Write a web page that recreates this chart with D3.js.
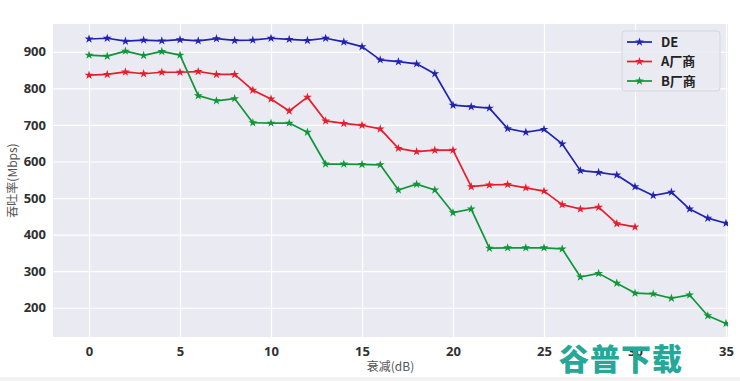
<!DOCTYPE html>
<html>
<head>
<meta charset="utf-8">
<script src="https://cdn.jsdelivr.net/npm/d3@7/dist/d3.min.js"></script>
<style>
  html, body { margin: 0; padding: 0; background: #ffffff; }
  svg { display: block; }
</style>
</head>
<body>
<svg id="chart" width="740" height="381"></svg>
<script>
// ---- data ----
const seriesNames = ["DE", "A厂商", "B厂商"];
const xTicks = [0, 5, 10, 15, 20, 25, 30, 35];
const yTicks = [200, 300, 400, 500, 600, 700, 800, 900];
const deValues = [935, 937, 929, 932, 930, 933, 930, 936, 931, 932,
                  937, 934, 931, 937, 927, 914, 878, 873, 867, 840,
                  754, 750, 746, 690, 680, 688, 648, 575, 570, 563,
                  531, 507, 516, 470, 445, 431];
const aValues = [836, 838, 845, 840, 844, 844, 846, 838, 838, 795,
                 771, 738, 776, 711, 704, 699, 689, 636, 627, 631,
                 631, 531, 536, 537, 528, 519, 482, 470, 475, 430,
                 421];
const bValues = [891, 888, 902, 890, 901, 891, 780, 766, 772, 706,
                 705, 705, 680, 593, 593, 592, 591, 522, 538, 522,
                 460, 470, 363, 364, 364, 364, 361, 284, 294, 267,
                 240, 238, 226, 235, 178, 157];
const colors = ["#2222b0", "#e61e2c", "#0f9638"];
const xLabel = "衰减(dB)";
const yLabel = "吞吐率(Mbps)";
const watermark = "谷普下载";

// ---- layout ----
const svg = d3.select("#chart");
const L = 53, R = 728, T = 24, B = 337;
const x = d3.scaleLinear().domain([-1.98, 35.11]).range([L, R]);
const y = d3.scaleLinear().domain([120, 976]).range([B, T]);

// background
svg.append("rect").attr("x", L).attr("y", T).attr("width", R - L).attr("height", B - T)
  .attr("fill", "#eaeaf2");

// grid
const gx = d3.axisBottom(x).tickValues(xTicks).tickSize(-(B - T)).tickFormat("");
svg.append("g").attr("transform", `translate(0,${B})`).call(gx)
  .call(g => g.select(".domain").remove())
  .call(g => g.selectAll("line").attr("stroke", "#ffffff").attr("stroke-width", 1.2));
const gy = d3.axisLeft(y).tickValues(yTicks).tickSize(-(R - L)).tickFormat("");
svg.append("g").attr("transform", `translate(${L},0)`).call(gy)
  .call(g => g.select(".domain").remove())
  .call(g => g.selectAll("line").attr("stroke", "#ffffff").attr("stroke-width", 1.2));

// tick labels via axes
const ax = d3.axisBottom(x).tickValues(xTicks).tickSize(0).tickPadding(10).tickFormat(d3.format("d"));
svg.append("g").attr("transform", `translate(0,${B})`).call(ax)
  .call(g => g.select(".domain").remove())
  .call(g => g.selectAll("text").attr("font-family", "'Open Sans', 'Noto Sans', sans-serif")
    .attr("font-size", 13).attr("font-weight", "bold").attr("fill", "#303030"));
const ay = d3.axisLeft(y).tickValues(yTicks).tickSize(0).tickPadding(7).tickFormat(d3.format("d"));
svg.append("g").attr("transform", `translate(${L},0)`).call(ay)
  .call(g => g.select(".domain").remove())
  .call(g => g.selectAll("text").attr("font-family", "'Open Sans', 'Noto Sans', sans-serif")
    .attr("font-size", 13).attr("font-weight", "bold").attr("fill", "#303030"));

// axis labels
svg.append("text").attr("x", (L + R) / 2).attr("y", 371).attr("text-anchor", "middle")
  .attr("font-family", "'Noto Sans CJK SC', sans-serif").attr("font-size", 12).attr("fill", "#555")
  .text(xLabel);
svg.append("text").attr("transform", `translate(17,${(T + B) / 2}) rotate(-90)`).attr("text-anchor", "middle")
  .attr("font-family", "'Noto Sans CJK SC', sans-serif").attr("font-size", 12).attr("fill", "#555")
  .text(yLabel);

// series
const clip = svg.append("clipPath").attr("id", "clip").append("rect")
  .attr("x", L).attr("y", T).attr("width", R - L).attr("height", B - T);
const plot = svg.append("g").attr("clip-path", "url(#clip)");
const allSeries = [deValues, aValues, bValues];
const line = d3.line().x((d, i) => x(i)).y(d => y(d));
const star = d3.symbol().type(d3.symbolStar).size(24);
allSeries.forEach((vals, k) => {
  plot.append("path").datum(vals).attr("d", line).attr("fill", "none")
    .attr("stroke", colors[k]).attr("stroke-width", 1.7).attr("stroke-linejoin", "round");
  plot.selectAll(null).data(vals).enter().append("path")
    .attr("transform", (d, i) => `translate(${x(i)},${y(d)})`)
    .attr("d", star).attr("fill", colors[k]);
});

// legend
const lg = svg.append("g");
lg.append("rect").attr("x", 622).attr("y", 31).attr("width", 98).attr("height", 60).attr("rx", 3)
  .attr("fill", "#eaeaf2").attr("fill-opacity", 0.85).attr("stroke", "#d6d6de").attr("stroke-width", 1);
seriesNames.forEach((name, k) => {
  const yy = 42 + k * 19.5;
  lg.append("line").attr("x1", 627).attr("x2", 652).attr("y1", yy).attr("y2", yy)
    .attr("stroke", colors[k]).attr("stroke-width", 1.7);
  lg.append("path").attr("transform", `translate(639.5,${yy})`).attr("d", star).attr("fill", colors[k]);
  lg.append("text").attr("x", 661).attr("y", yy + 4.5)
    .attr("font-family", "'Noto Sans CJK SC', 'Open Sans', sans-serif").attr("font-size", 13)
    .attr("font-weight", "bold").attr("fill", "#222").text(name);
});

// bottom strip
svg.append("rect").attr("x", 0).attr("y", 377).attr("width", 740).attr("height", 4).attr("fill", "#f2f2f2");

// watermark
svg.append("text").attr("x", 621).attr("y", 370).attr("text-anchor", "middle")
  .attr("font-family", "'Noto Sans CJK SC', sans-serif").attr("font-size", 30).attr("font-weight", 900)
  .attr("fill", "#26a898").attr("letter-spacing", 1).text(watermark);
</script>
</body>
</html>
